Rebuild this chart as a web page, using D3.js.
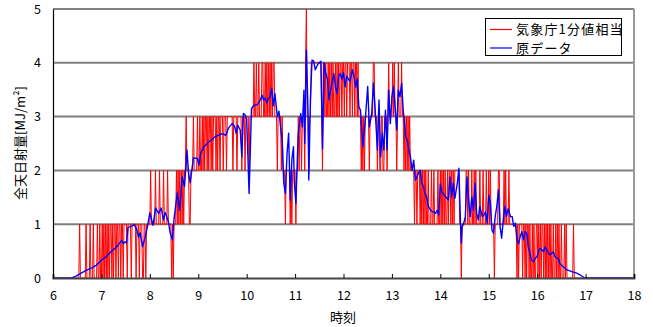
<!DOCTYPE html>
<html><head><meta charset="utf-8">
<script src="https://cdn.jsdelivr.net/npm/d3@7"></script>
<style>
body{margin:0;background:#fff}
svg{display:block}
text{font-family:"Noto Sans CJK JP","Noto Sans",sans-serif;fill:#000}
</style>
</head><body>
<svg id="chart" width="653" height="327"></svg>
<script>
// ---- data ----
const xTicks = [6,7,8,9,10,11,12,13,14,15,16,17,18];
const yTicks = [0,1,2,3,4,5];
const seriesNames = ["気象庁1分値相当","原データ"];
const xTitle = "時刻";
const yTitle = "全天日射量[MJ/m²]";

// red series: 1-minute values (one digit per minute), one string per hour starting 6:00
const redHours = [
  "000000000000000000000000000000" + "0001000000" + "0100001000" + "1000010010", // 6
  "0101010101" + "0110101101" + "1011011011" + "1101111011" + "1110111011" + "1001101111", // 7
  "1211111211" + "1121111211" + "1121111010" + "1112121212" + "1212232221" + "1222322223", // 8
  "2232232323" + "3232332323" + "3323233233" + "3233323333" + "3332333323" + "3333233323", // 9
  "3332333334" + "3343343334" + "4334343434" + "3434433323" + "3332322212" + "2222121222", // 10
  "2122323323" + "3324533233" + "4444444444" + "4443244343" + "3434343433" + "4343434434", // 11
  "4344344434" + "4344344343" + "3323232333" + "3323333443" + "3323322332" + "2333234333", // 12
  "3434332343" + "3343323232" + "3232222212" + "2122212121" + "2121121112" + "1121111211", // 13
  "2121212112" + "1221212122" + "2222110111" + "1122121112" + "1121211112" + "1112111211", // 14
  "2121111011" + "1122111112" + "1211121111" + "1111101011" + "1101101011" + "0100101001", // 15
  "1010101101" + "0101010100" + "1001010100" + "1000101000" + "0000010000" + "0000000000", // 16
  "000000000000000000000000000000" + "000000000000000000000000000000", // 17
  "0" // 18:00
];

// blue series: [minutes after 6:00, value]
const blueData = [
[0,0],[23,0],[28,0.03],[35,0.09],[41,0.14],[48,0.19],[54,0.24],[60,0.33],[66,0.40],[72,0.49],
[79,0.58],[85,0.70],[87,0.64],[89,0.67],[91,0.65],[93,0.94],[98,0.97],[101,0.99],[104,0.89],[106,0.76],
[108,0.84],[111,0.58],[114,0.75],[117,0.95],[120,1.21],[124,0.98],[127,1.30],[131,1.20],[134,1.30],[137,1.08],
[139,1.22],[143,1.05],[145,0.85],[148,0.71],[150,1.10],[154,1.58],[157,1.26],[160,1.88],[163,1.70],[166,2.38],
[168,1.95],[170,1.77],[172,2.00],[174,2.23],[179,2.22],[181,2.10],[183,2.32],[187,2.44],[190,2.48],[193,2.53],
[196,2.56],[199,2.60],[201,2.63],[205,2.65],[209,2.68],[212,2.67],[214,2.65],[218,2.80],[222,2.87],[225,2.82],
[227,2.69],[229,2.84],[232,2.75],[234,2.25],[236,3.06],[238,3.03],[240,2.96],[243,1.57],[246,3.15],[249,3.21],
[253,3.22],[257,3.31],[259,3.40],[261,3.31],[263,3.34],[265,3.25],[267,3.34],[269,3.37],[271,3.53],[273,3.20],
[275,3.43],[278,3.00],[280,3.10],[282,2.81],[284,2.56],[286,1.76],[288,1.57],[290,2.30],[292,2.69],[294,1.45],
[296,2.20],[298,2.44],[299,1.80],[301,1.39],[303,2.30],[304,2.69],[307,3.06],[309,2.81],[311,3.49],[312,2.50],
[314,4.24],[316,3.12],[317,1.82],[319,3.31],[321,4.05],[323,4.03],[325,3.87],[328,3.97],[330,4.00],[332,4.03],
[334,2.40],[336,4.00],[338,3.80],[340,3.70],[342,3.31],[344,3.49],[348,3.80],[350,3.55],[352,3.43],[354,3.75],
[356,3.80],[358,3.70],[360,3.82],[362,3.55],[364,3.75],[366,3.70],[368,3.65],[371,3.87],[373,3.75],[375,3.55],
[377,3.70],[379,3.18],[381,3.12],[384,2.44],[387,2.94],[390,3.56],[392,2.81],[395,3.06],[397,3.62],[399,3.18],
[402,2.38],[404,3.31],[406,2.25],[408,2.69],[410,2.38],[412,3.12],[414,2.38],[416,3.49],[418,2.87],[420,3.37],
[422,3.56],[424,3.18],[426,2.75],[428,3.49],[430,3.37],[432,3.62],[434,3.12],[437,2.63],[439,2.56],[441,2.38],
[443,2.25],[445,2.00],[447,2.19],[449,1.82],[451,1.88],[453,1.95],[455,2.00],[457,1.76],[459,1.70],[461,1.57],
[463,1.51],[465,1.33],[468,1.26],[470,1.23],[472,1.23],[474,1.20],[476,1.26],[478,1.17],[480,1.75],[482,1.60],
[486,1.52],[490,1.45],[492,1.88],[494,1.51],[496,1.76],[498,1.48],[501,1.76],[503,2.04],[505,1.02],[506,0.65],
[507,0.95],[509,1.02],[511,1.14],[513,1.88],[515,1.45],[517,1.14],[519,1.51],[521,1.26],[523,1.76],[525,1.20],
[527,1.08],[529,1.33],[532,1.14],[534,1.17],[536,1.23],[538,1.02],[540,1.54],[542,1.39],[544,0.89],[546,0.83],
[548,1.14],[550,1.33],[552,1.64],[554,0.96],[556,0.74],[558,1.08],[560,1.33],[562,1.14],[564,1.29],[567,1.14],
[569,1.14],[571,0.96],[573,1.02],[575,0.71],[577,0.64],[579,0.77],[581,0.86],[583,0.71],[585,0.86],[587,0.83],
[589,0.58],[591,0.46],[593,0.33],[595,0.31],[598,0.37],[600,0.40],[602,0.52],[604,0.55],[606,0.52],[608,0.49],
[610,0.58],[612,0.52],[614,0.46],[616,0.43],[620,0.49],[622,0.40],[624,0.37],[626,0.37],[628,0.27],[633,0.20],
[637,0.15],[643,0.12],[649,0.09],[653,0.06],[659,0],[720,0]
];

// ---- build ----
const redValues = redHours.join("").split("").map(Number);
const redSeries = redValues.map((v,i) => ({t: 6 + i/60, v}));
const blueSeries = blueData.map(d => ({t: 6 + d[0]/60, v: d[1]}));

const P = {l:53, r:634, t:9, b:278};
const x = d3.scaleLinear().domain([6,18]).range([P.l, P.r]);
const y = d3.scaleLinear().domain([0,5]).range([P.b, P.t]);
const svg = d3.select("#chart");

// grid lines
svg.append("g").selectAll("line").data(yTicks.filter(d => d > 0)).join("line")
  .attr("x1", P.l).attr("x2", P.r)
  .attr("y1", d => y(d)).attr("y2", d => y(d))
  .attr("stroke", "#808080").attr("stroke-width", 2);
// right border
svg.append("line").attr("x1", P.r).attr("x2", P.r).attr("y1", P.t).attr("y2", P.b)
  .attr("stroke", "#999").attr("stroke-width", 2);

const line = d3.line().x(d => x(d.t)).y(d => y(d.v));
svg.append("path").datum(redSeries).attr("d", line)
  .attr("fill", "none").attr("stroke", "#ff0000").attr("stroke-width", 1);
svg.append("path").datum(blueSeries).attr("d", line)
  .attr("fill", "none").attr("stroke", "#0000ff").attr("stroke-width", 1.4)
  .attr("stroke-linejoin", "round");

// axes
const xAxis = d3.axisBottom(x).tickValues(xTicks).tickSize(-4).tickPadding(13).tickFormat(d3.format("d"));
const gx = svg.append("g").attr("transform", `translate(0,${P.b})`).call(xAxis);
gx.select(".domain").attr("stroke", "#444").attr("stroke-width", 2);
gx.selectAll(".tick line").attr("stroke", "#000");
gx.selectAll("text").attr("font-size", 12.5);

const yAxis = d3.axisLeft(y).tickValues(yTicks).tickSize(0).tickPadding(12).tickFormat(d3.format("d"));
const gy = svg.append("g").attr("transform", `translate(${P.l},0)`).call(yAxis);
gy.select(".domain").attr("stroke", "#000").attr("stroke-width", 1.2);
gy.selectAll("text").attr("font-size", 12.5);

// titles
svg.append("text").attr("x", 343).attr("y", 322).attr("text-anchor", "middle")
  .attr("font-size", 13).text(xTitle);
svg.append("text").attr("transform", "translate(25,143) rotate(-90)").attr("text-anchor", "middle")
  .attr("font-size", 13).text(yTitle);

// legend
const lg = svg.append("g");
lg.append("rect").attr("x", 485.5).attr("y", 18.5).attr("width", 136).attr("height", 37)
  .attr("fill", "#fff").attr("stroke", "#000").attr("stroke-width", 1);
const colors = ["#ff0000", "#0000ff"];
seriesNames.forEach((n, i) => {
  const yy = 29.5 + i * 18.5;
  lg.append("line").attr("x1", 490).attr("x2", 512).attr("y1", yy).attr("y2", yy)
    .attr("stroke", colors[i]).attr("stroke-width", 1.2);
  lg.append("text").attr("x", 516).attr("y", yy + 4.5).attr("font-size", 13)
    .attr("letter-spacing", 1.2).text(n);
});
</script>
</body></html>
